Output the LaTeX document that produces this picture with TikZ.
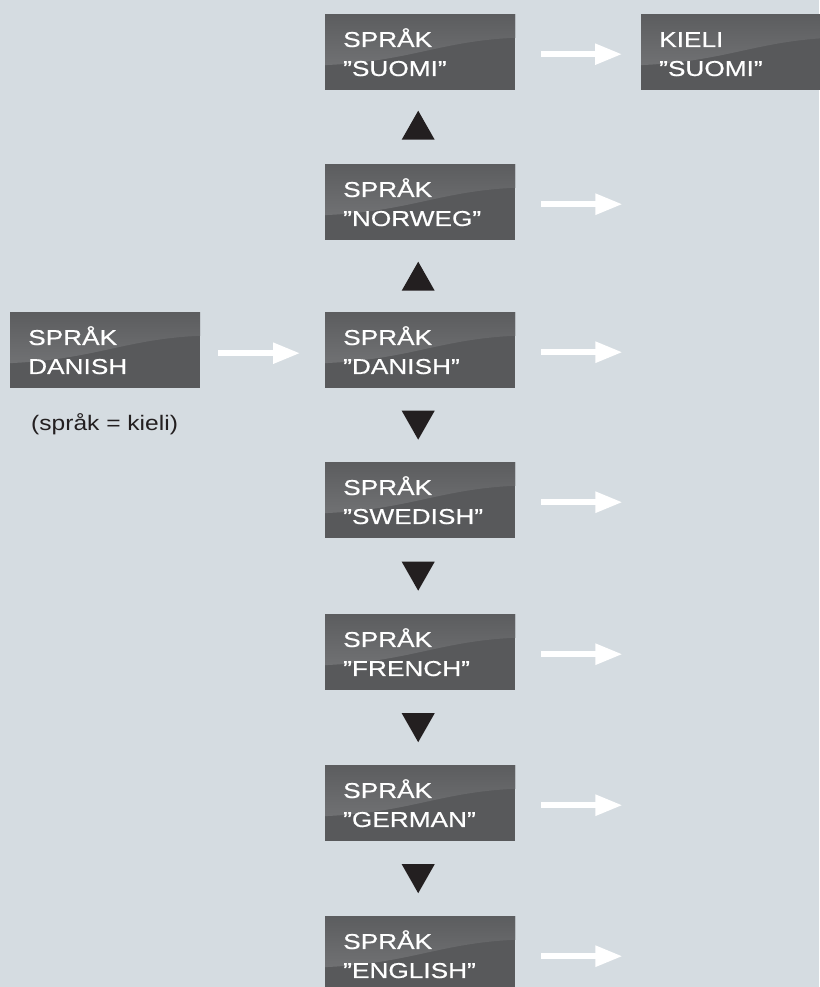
\documentclass[tikz,border=0pt]{standalone}
\usepackage{fontspec}
\newfontfamily\boxfont[FakeStretch=1.22,FakeBold=0.6]{Liberation Sans}
\newfontfamily\capfont[FakeStretch=1.17]{Liberation Sans}
\usetikzlibrary{arrows.meta,calc}
\definecolor{bg}{HTML}{D5DCE1}
\definecolor{boxdark}{HTML}{58595B}
\definecolor{boxtop}{HTML}{5C5D5F}
\definecolor{boxhi}{HTML}{7A7B7D}
\definecolor{tricol}{HTML}{231F20}
\tikzset{
  langbox/.style={anchor=north west, fill=boxdark, minimum width=190pt,
    minimum height=76pt, text width=154pt, inner xsep=18pt, inner ysep=0pt,
    align=left, text=white, font={\boxfont\fontsize{21.5}{29}\selectfont},
    path picture={
      \fill[top color=boxtop, bottom color=boxhi]
        let \p1=(path picture bounding box.north west),
            \p2=(path picture bounding box.south east) in
        (\x1,\y1) -- (\x2,\y1) -- ({\x2},{\y1+0.31*(\y2-\y1)})
        .. controls ({\x1+0.6*(\x2-\x1)},{\y1+0.355*(\y2-\y1)})
               and ({\x1+0.45*(\x2-\x1)},{\y1+0.62*(\y2-\y1)})
        .. ({\x1},{\y1+0.67*(\y2-\y1)}) -- cycle;}},
  caption/.style={text=tricol, inner sep=0pt, font={\capfont\fontsize{21}{25}\selectfont}},
  warrow/.style={white, line width=5.5pt, -{Triangle[length=27pt,width=20pt]}},
  uptri/.pic={\fill[tricol] (-2,-14.5) -- (14.5,14.5) -- (-18.5,14.5) -- cycle;},
  downtri/.pic={\fill[tricol] (-2,14.5) -- (14.5,-14.5) -- (-18.5,-14.5) -- cycle;}
}
\begin{document}
\begin{tikzpicture}[x=1pt,y=-1pt]
  \fill[bg] (0,0) rectangle (819,987);
  \useasboundingbox (0,0) rectangle (819,987);

  \node[langbox] (suomi)   at (325,14)  {\vphantom{Å}SPRÅK\\”SUOMI”};
  \node[langbox] (norweg)  at (325,164) {\vphantom{Å}SPRÅK\\”NORWEG”};
  \node[langbox] (danish)  at (325,312) {\vphantom{Å}SPRÅK\\”DANISH”};
  \node[langbox] (swedish) at (325,462) {\vphantom{Å}SPRÅK\\”SWEDISH”};
  \node[langbox] (french)  at (325,614) {\vphantom{Å}SPRÅK\\”FRENCH”};
  \node[langbox] (german)  at (325,765) {\vphantom{Å}SPRÅK\\”GERMAN”};
  \node[langbox] (english) at (325,916) {\vphantom{Å}SPRÅK\\”ENGLISH”};
  \node[langbox] (kieli)   at (641,14)  {\vphantom{Å}KIELI\\”SUOMI”};
  \node[langbox] (start)   at (10,312)  {\vphantom{Å}SPRÅK\\DANISH};
  \node[caption, anchor=base west] (note) at (31,430) {(språk = kieli)};

  \draw[warrow] ([xshift=18pt,yshift=-3pt]start.east) -- ([xshift=-25pt,yshift=-3pt]danish.west);
  \draw[warrow] ([xshift=26pt,yshift=-2pt]suomi.east) -- ([xshift=-19pt,yshift=-2pt]kieli.west);
  \foreach \b in {norweg,danish,swedish,french,german,english}
    \draw[warrow] ([xshift=26pt,yshift=-2pt]\b.east) -- ++(81,0);

  \pic at ($(suomi.south)!0.5!(norweg.north)+(0,-2)$) {uptri};
  \pic at ($(norweg.south)!0.5!(danish.north)$) {uptri};
  \pic at ($(danish.south)!0.5!(swedish.north)$) {downtri};
  \pic at ($(swedish.south)!0.5!(french.north)$) {downtri};
  \pic at ($(french.south)!0.5!(german.north)$) {downtri};
  \pic at ($(german.south)!0.5!(english.north)$) {downtri};
\end{tikzpicture}
\end{document}
